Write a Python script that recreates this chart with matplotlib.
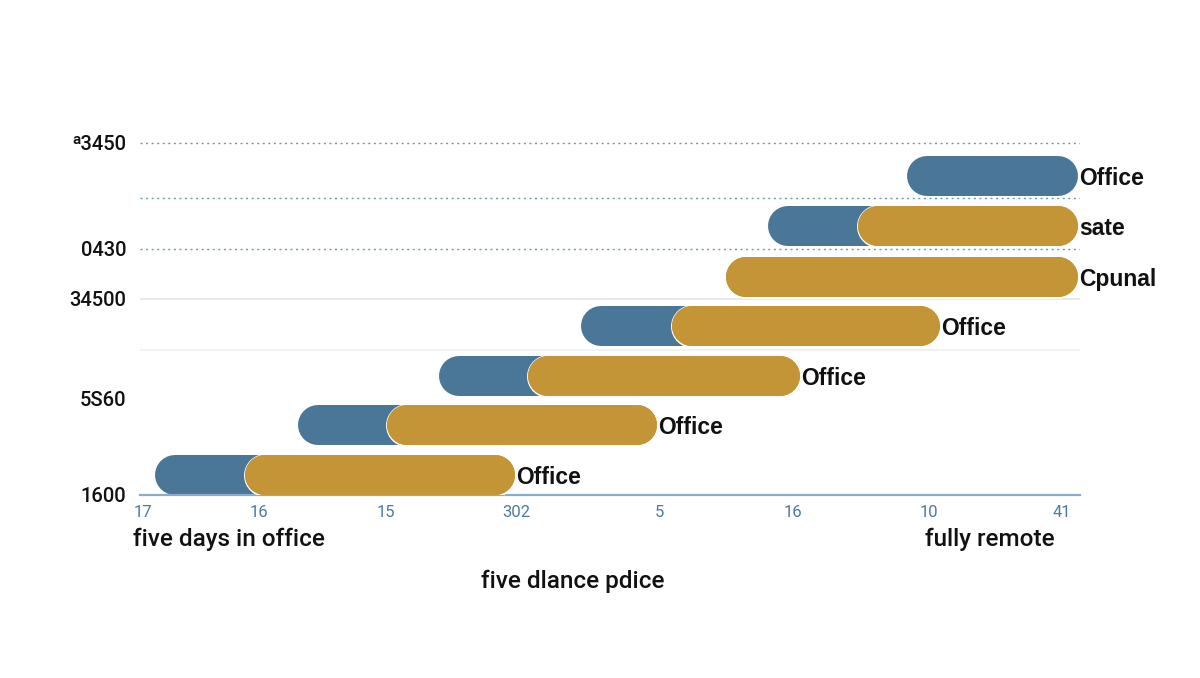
import matplotlib
matplotlib.use("Agg")
import matplotlib.pyplot as plt
import matplotlib.patheffects as pe

plt.rcParams['font.family'] = ['Liberation Sans', 'DejaVu Sans']

# ---- data ----
rows = [0.40, 1.40, 2.38, 3.38, 4.36, 5.38, 6.38]
blue_start = [1.6, 16.8, 31.8, 46.9, None, 66.8, 81.6]
gold_start = [11.2, 26.3, 41.3, 56.6, 62.3, 76.4, None]
bar_end = [39.9, 55.0, 70.2, 85.1, 99.8, 99.8, 99.8]
bar_labels = ["Office", "Office", "Office", "Office", "Cpunal", "sate", "Office"]

xtick_pos = [0.3, 12.6, 26.2, 40.0, 55.3, 69.5, 83.9, 98.1]
xtick_labels = ["17", "16", "15", "302", "5", "16", "10", "41"]

ytick_pos = [0.0, 1.94, 3.92, 4.92, 7.04]
ytick_labels = ["1600", "5S60", "34500", "0430", "ᵃ3450"]

grid_dotted = [7.04, 5.94, 4.92]
grid_solid = [3.92, 2.90]

BLUE = "#4a7697"
GOLD = "#c39536"

W, H, DPI = 12, 6.78, 100
fig = plt.figure(figsize=(W, H), dpi=DPI)
ax_left, ax_right = 140 / 1200, 1080 / 1200
ax_bottom = (678 - 495) / 678
ax_top = (678 - 130) / 678
ax = fig.add_axes([ax_left, ax_bottom, ax_right - ax_left, ax_top - ax_bottom])
ax.set_xlim(0, 100)
ax.set_ylim(0, 7.3)

bar_px = 40
lw = bar_px * 72 / DPI
ax_w_px = (ax_right - ax_left) * W * DPI
r = (bar_px / 2) / (ax_w_px / 100.0)

for y in grid_dotted:
    ax.axhline(y, color="#6a9ea0", lw=1.0, ls=(0, (1.5, 2.5)), zorder=0)
for i, y in enumerate(grid_solid):
    ax.axhline(y, color="#e4e6e8" if i == 0 else "#eff0f1", lw=1.2, zorder=0)

for y, bs, gs, e, lab in zip(rows, blue_start, gold_start, bar_end, bar_labels):
    if bs is not None:
        be = e if gs is None else min(e, gs + 10)
        ax.plot([bs + r, be - r], [y, y], color=BLUE, lw=lw,
                solid_capstyle="round", zorder=2)
    if gs is not None:
        ax.plot([gs + r, e - r], [y, y], color=GOLD, lw=lw,
                solid_capstyle="round", zorder=3,
                path_effects=[pe.withStroke(linewidth=lw + 2.2, foreground="white"), pe.Normal()])
    ax.text(e + 0.1, y, lab, ha="left", va="center_baseline", fontsize=16.5,
            fontweight="bold", color="#111111", zorder=4)

ax.set_xticks(xtick_pos)
ax.set_xticklabels(xtick_labels, color="#4a7aa8", fontsize=12, family="Roboto")
ax.tick_params(axis="x", length=0, pad=7)
ax.set_yticks(ytick_pos)
ax.set_yticklabels(ytick_labels, color="#111111", fontsize=14.5, family="Roboto",
                   fontweight="medium")
ax.tick_params(axis="y", length=0, pad=10)

for s in ["top", "right", "left"]:
    ax.spines[s].set_visible(False)
ax.spines["bottom"].set_color("#8aaccc")
ax.spines["bottom"].set_linewidth(1.6)

txt_kw = dict(fontsize=17.5, color="#111111", family="Roboto", fontweight="medium")
fig.text(133 / 1200, 1 - 539 / 678, "five days in office", ha="left", va="center", **txt_kw)
fig.text(1055 / 1200, 1 - 539 / 678, "fully remote", ha="right", va="center", **txt_kw)
fig.text(573 / 1200, 1 - 581 / 678, "five dlance pdice", ha="center", va="center", **txt_kw)

fig.savefig("out.png", dpi=DPI, facecolor="white")
